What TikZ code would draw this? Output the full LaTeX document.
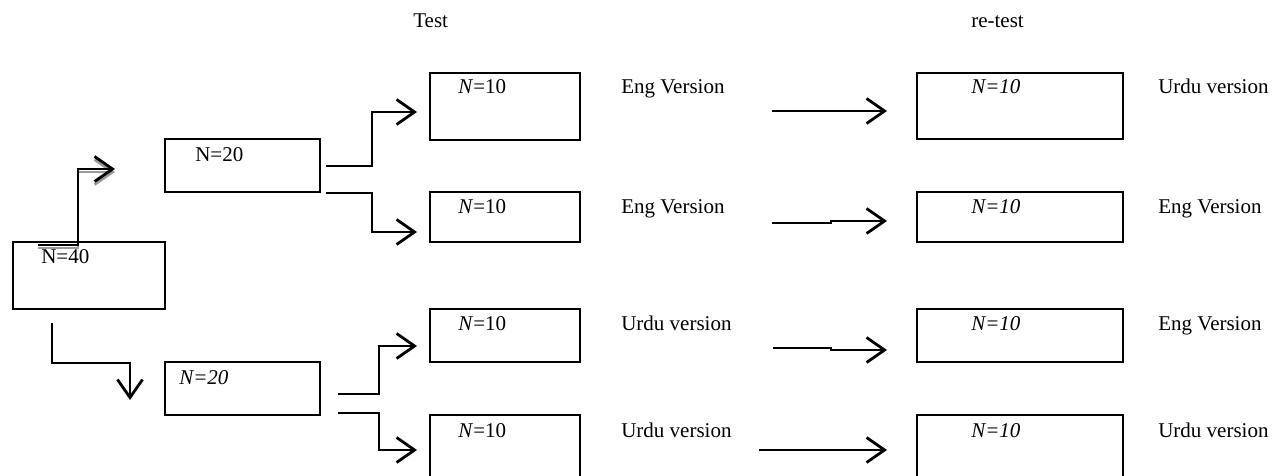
\documentclass[tikz,border=0pt]{standalone}
\usepackage{fontspec}
\setmainfont{Liberation Serif}
\usetikzlibrary{arrows.meta,fit}
\newcommand\mybox[5]{%
  \coordinate (#1-nw) at (#2,#3);
  \coordinate (#1-se) at (#4,#5);
  \node[boxstyle, fit=(#1-nw)(#1-se)] (#1) {};}
\begin{document}
\begin{tikzpicture}[x=1pt,y=-1pt, line width=2.6pt,
  boxstyle/.style={draw, inner sep=0pt, line width=2.6pt},
  arr/.style={-{Straight Barb[length=18pt,width=25pt,line width=2.8pt]}, line join=miter},
  lbl/.style={anchor=base west, inner sep=0pt, font=\fontsize{21}{25}\selectfont},
]
\useasboundingbox (0,0) rectangle (1273,476);
\clip (0,0) rectangle (1273,476);

% titles
\node[lbl] (ttest) at (412,28) {Test};
\node[lbl] (tretest) at (970,28) {re-test};

% boxes
\mybox{n40}{13}{242}{165}{309}
\mybox{n20a}{165}{139}{320}{192}
\mybox{n20b}{165}{362}{320}{415}
\mybox{a1}{430}{73}{580}{140}
\mybox{a2}{430}{192}{580}{242}
\mybox{a3}{430}{309}{580}{362}
\mybox{a4}{430}{415}{580}{500}
\mybox{b1}{917}{73}{1123}{139}
\mybox{b2}{917}{192}{1123}{242}
\mybox{b3}{917}{309}{1123}{362}
\mybox{b4}{917}{415}{1123}{500}

% box texts
\node[lbl] (t40) at (40,263) {N=40};
\node[lbl] (t20a) at (194,161) {N=20};
\node[lbl] (t20b) at (178,384) {\textit{N=20}};
\node[lbl] (ta1) at (457,94) {\textit{N}=10};
\node[lbl] (ta2) at (457,213) {\textit{N}=10};
\node[lbl] (ta3) at (457,330) {\textit{N}=10};
\node[lbl] (ta4) at (457,437) {\textit{N}=10};
\node[lbl] (tb1) at (970,94) {\textit{N=10}};
\node[lbl] (tb2) at (970,213) {\textit{N=10}};
\node[lbl] (tb3) at (970,330) {\textit{N=10}};
\node[lbl] (tb4) at (970,437) {\textit{N=10}};

% version labels
\node[lbl] (la1) at (620,94) {Eng Version};
\node[lbl] (la2) at (620,213) {Eng Version};
\node[lbl] (la3) at (620,330) {Urdu version};
\node[lbl] (la4) at (620,437) {Urdu version};
\node[lbl] (lb1) at (1157,94) {Urdu version};
\node[lbl] (lb2) at (1157,213) {Eng Version};
\node[lbl] (lb3) at (1157,330) {Eng Version};
\node[lbl] (lb4) at (1157,437) {Urdu version};

% connector coordinates
\coordinate (s40a) at (38,245);
\coordinate (k40a) at (78,169);
\coordinate (e40a) at (115,169);
\coordinate (s40b) at (52,323);
\coordinate (k40b) at (130,363);
\coordinate (e40b) at (130,400);

\coordinate (sA1) at (326,166);
\coordinate (kA1) at (372,112);
\coordinate (eA1) at (417,112);
\coordinate (sA2) at (326,193);
\coordinate (kA2) at (372,232);
\coordinate (eA2) at (417,232);
\coordinate (sB1) at (338,394);
\coordinate (kB1) at (379,346);
\coordinate (eB1) at (417,346);
\coordinate (sB2) at (338,413);
\coordinate (kB2) at (379,450);
\coordinate (eB2) at (417,450);

\coordinate (m1s) at (772,111);
\coordinate (m1e) at (887,111);
\coordinate (m2s) at (772,223);
\coordinate (m2k) at (831,221);
\coordinate (m2e) at (887,221);
\coordinate (m3s) at (773,348);
\coordinate (m3k) at (831,350);
\coordinate (m3e) at (887,350);
\coordinate (m4s) at (759,450);
\coordinate (m4e) at (887,450);

% shadowed arrow from N=40 up to N=20
\draw[arr, black!40] ([shift={(0,3)}]s40a) -| ([shift={(0,3)}]k40a) -- ([shift={(0,3)}]e40a);
\draw[arr] (s40a) -| (k40a) -- (e40a);

% arrow from N=40 down to N=20
\draw[arr] (s40b) |- (k40b) -- (e40b);

% branch arrows
\draw[arr] (sA1) -| (kA1) -- (eA1);
\draw[arr] (sA2) -| (kA2) -- (eA2);
\draw[arr] (sB1) -| (kB1) -- (eB1);
\draw[arr] (sB2) -| (kB2) -- (eB2);

% test -> retest arrows
\draw[arr] (m1s) -- (m1e);
\draw[arr] (m2s) -| (m2k) -- (m2e);
\draw[arr] (m3s) -| (m3k) -- (m3e);
\draw[arr] (m4s) -- (m4e);
\end{tikzpicture}
\end{document}
